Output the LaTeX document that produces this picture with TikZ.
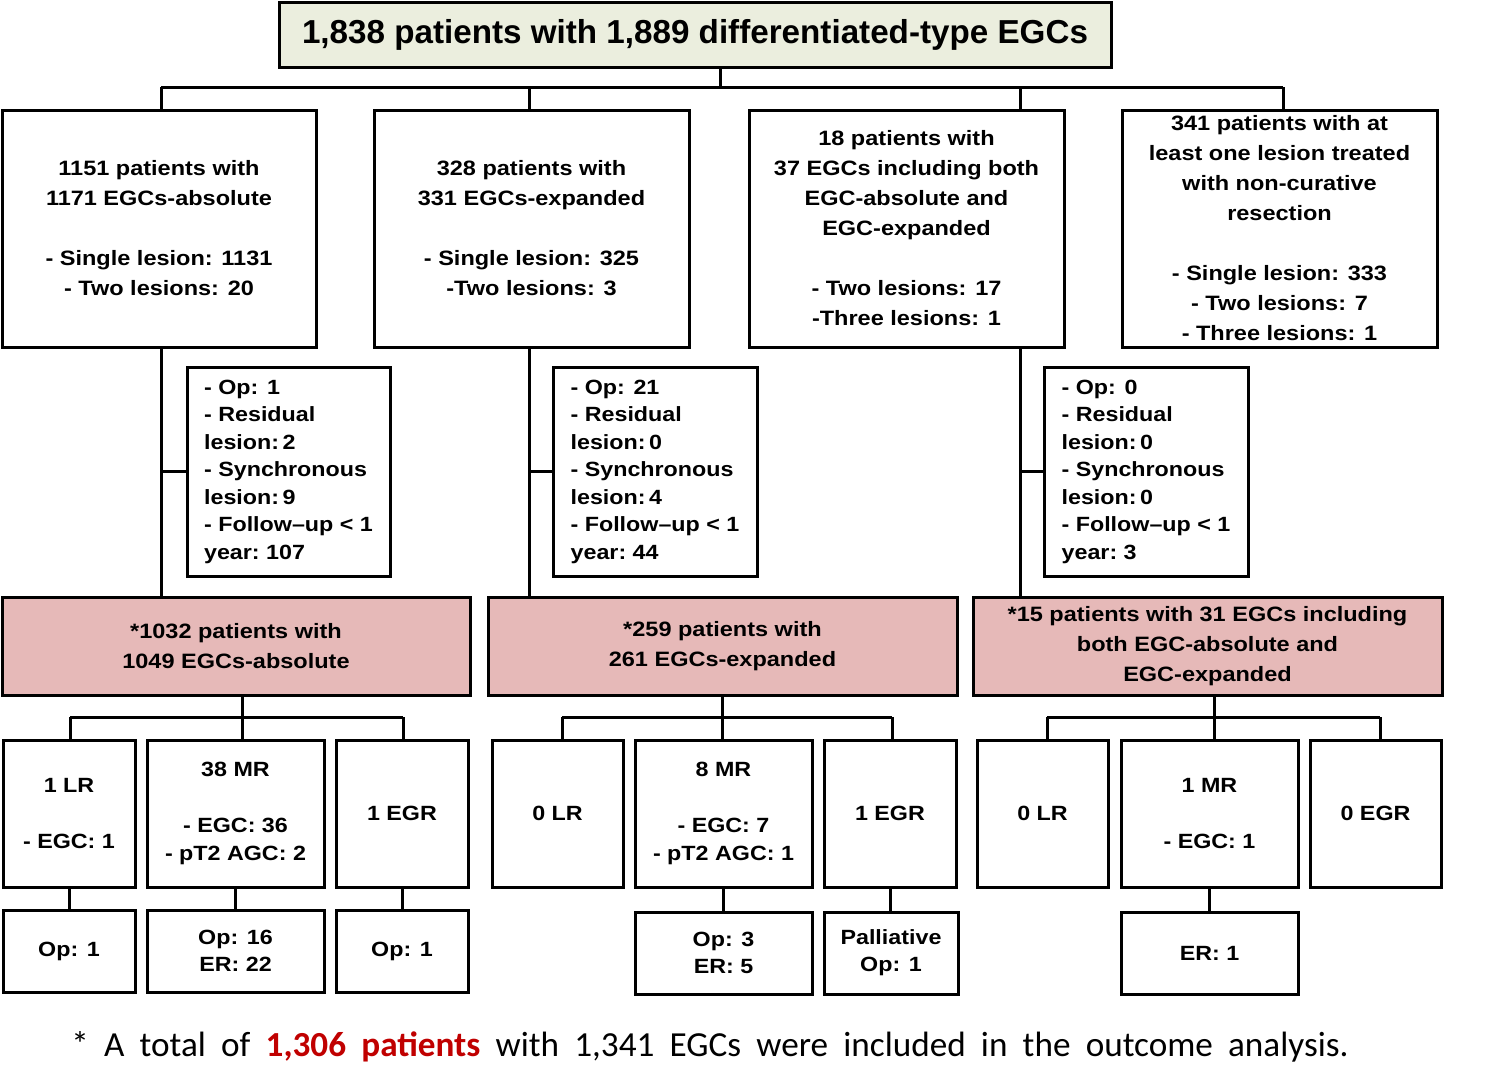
\documentclass[tikz,border=0pt]{standalone}
\usepackage{fontspec}
\setmainfont{Liberation Sans}
\newfontfamily\bodyfont[FakeStretch=1.13]{Liberation Sans}
\newfontfamily\footfont{Carlito}
\usetikzlibrary{calc}
\definecolor{topfill}{RGB}{235,238,222}
\definecolor{pinkfill}{RGB}{230,185,184}
\definecolor{redtxt}{RGB}{192,0,0}
\newcommand{\fsp}{\hspace{7.6pt}}
\begin{document}
\begin{tikzpicture}[x=0.5pt,y=-0.5pt,line width=1.5pt,
  box/.style={draw,line width=1.5pt,inner sep=0pt,align=center,
    font=\bodyfont\bfseries\fontsize{10.4pt}{15pt}\selectfont},
  sidebox/.style={box,align=left,font=\bodyfont\bfseries\fontsize{10.3pt}{13.75pt}\selectfont},
  pinkbox/.style={box,fill=pinkfill},
  smallbox/.style={box,font=\bodyfont\bfseries\fontsize{10.3pt}{14pt}\selectfont},
  leafbox/.style={box,font=\bodyfont\bfseries\fontsize{10.3pt}{13.5pt}\selectfont},
  link/.style={draw,line width=1.5pt}]
\useasboundingbox (0,0) rectangle (1489,1087);
% title
\node[box,fill=topfill,minimum width=416pt,minimum height=32.5pt,
  font=\bfseries\fontsize{16.6pt}{19pt}\selectfont] (top) at (695,34.5)
  {1,838 patients with 1,889 differentiated-type EGCs};
% second row
\node[box,minimum width=157pt,minimum height=118.5pt] (A) at (159,228.5)
  {1151 patients with\\1171 EGCs-absolute\\[15pt]- Single lesion: 1131\\- Two lesions: 20};
\node[box,minimum width=157.5pt,minimum height=118.5pt] (B) at (531.5,228.5)
  {328 patients with\\331 EGCs-expanded\\[15pt]- Single lesion: 325\\-Two lesions: 3};
\node[box,minimum width=157.5pt,minimum height=118.5pt] (C) at (906.5,228.5)
  {18 patients with\\37 EGCs including both\\EGC-absolute and\\EGC-expanded\\[15pt]- Two lesions: 17\\-Three lesions: 1};
\node[box,minimum width=157.5pt,minimum height=118.5pt] (D) at (1279.5,228.5)
  {341 patients with at\\least one lesion treated\\with non-curative\\resection\\[15pt]- Single lesion: 333\\- Two lesions: 7\\- Three lesions: 1};
% side boxes
\node[sidebox,minimum width=101.5pt,minimum height=104.5pt] (S1) at (288.5,471.5)
  {- Op: 1\\- Residual\\lesion:\,2\\- Synchronous\\lesion:\,9\\- Follow–up < 1\\year:~107};
\node[sidebox,minimum width=102pt,minimum height=104.5pt] (S2) at (655,471.5)
  {- Op: 21\\- Residual\\lesion:\,0\\- Synchronous\\lesion:\,4\\- Follow–up < 1\\year:~44};
\node[sidebox,minimum width=102pt,minimum height=104.5pt] (S3) at (1146,471.5)
  {- Op: 0\\- Residual\\lesion:\,0\\- Synchronous\\lesion:\,0\\- Follow–up < 1\\year:~3};
% pink boxes
\node[pinkbox,minimum width=234pt,minimum height=49pt] (P1) at (236,646)
  {*1032 patients with\\1049 EGCs-absolute};
\node[pinkbox,minimum width=234.5pt,minimum height=49pt] (P2) at (722.5,646)
  {*259 patients with\\261 EGCs-expanded};
\node[pinkbox,minimum width=234.5pt,minimum height=49pt] (P3) at (1207.5,646)
  {*15 patients with 31 EGCs including\\both EGC-absolute and\\EGC-expanded};
% fourth row
\node[smallbox,minimum width=66pt,minimum height=73.5pt] (Q1) at (69,813.5) {1 LR\\[14pt]- EGC: 1};
\node[smallbox,minimum width=88.5pt,minimum height=73.5pt] (Q2) at (235.5,813.5) {38 MR\\[14pt]- EGC: 36\\- pT2 AGC: 2};
\node[smallbox,minimum width=66pt,minimum height=73.5pt] (Q3) at (402,813.5) {1 EGR};
\node[smallbox,minimum width=65.5pt,minimum height=73.5pt] (Q4) at (557.5,813.5) {0 LR};
\node[smallbox,minimum width=88.5pt,minimum height=73.5pt] (Q5) at (723.5,813.5) {8 MR\\[14pt]- EGC: 7\\- pT2 AGC: 1};
\node[smallbox,minimum width=66pt,minimum height=73.5pt] (Q6) at (890,813.5) {1 EGR};
\node[smallbox,minimum width=65.5pt,minimum height=73.5pt] (Q7) at (1042.5,813.5) {0 LR};
\node[smallbox,minimum width=88.5pt,minimum height=73.5pt] (Q8) at (1209.5,813.5) {1 MR\\[14pt]- EGC: 1};
\node[smallbox,minimum width=65.5pt,minimum height=73.5pt] (Q9) at (1375.5,813.5) {0 EGR};
% fifth row
\node[leafbox,minimum width=66pt,minimum height=41pt] (R1) at (69,951) {Op: 1};
\node[leafbox,minimum width=88.5pt,minimum height=41pt] (R2) at (235.5,951) {Op: 16\\ER: 22};
\node[leafbox,minimum width=66pt,minimum height=41pt] (R3) at (402,951) {Op: 1};
\node[leafbox,minimum width=88.5pt,minimum height=41pt] (R5) at (723.5,953) {Op: 3\\ER: 5};
\node[leafbox,minimum width=67pt,minimum height=41pt] (R6) at (891,953) {Palliative\\Op: 1};
\node[leafbox,minimum width=88.5pt,minimum height=41pt] (R8) at (1209.5,953) {ER: 1};
% footnote
\node[font=\footfont\fontsize{17.6pt}{19pt}\selectfont,inner sep=0pt] (note) at (710,1047)
  {*\fsp A\fsp total\fsp of\fsp {\color{redtxt}\bfseries 1,306\fsp patients}\fsp with\fsp 1,341\fsp EGCs\fsp were\fsp included\fsp in\fsp the\fsp outcome\fsp analysis.};
% top connectors
\coordinate (jt) at (720,87);
\coordinate (xa) at (161,87);
\coordinate (xb) at (529,87);
\coordinate (xc) at (1020,87);
\coordinate (xd) at (1283,87);
\draw[link] (top.south -| jt) -- (jt);
\draw[link] (xa) -- (xd);
\draw[link] (xa) -- (A.north -| xa);
\draw[link] (xb) -- (B.north -| xb);
\draw[link] (xc) -- (C.north -| xc);
\draw[link] (xd) -- (D.north -| xd);
% verticals to pink boxes
\draw[link] (A.south -| xa) -- (P1.north -| xa);
\draw[link] (B.south -| xb) -- (P2.north -| xb);
\draw[link] (C.south -| xc) -- (P3.north -| xc);
\draw[link] (S1.west) -- (S1.west -| xa);
\draw[link] (S2.west) -- (S2.west -| xb);
\draw[link] (S3.west) -- (S3.west -| xc);
% lower buses
\coordinate (g1a) at (70,717);  \coordinate (g1b) at (242,717); \coordinate (g1c) at (403,717);
\coordinate (g2a) at (562,717); \coordinate (g2b) at (722,717); \coordinate (g2c) at (892,717);
\coordinate (g3a) at (1047,717);\coordinate (g3b) at (1214,717);\coordinate (g3c) at (1380,717);
\draw[link] (P1.south -| g1b) -- (g1b);
\draw[link] (g1a) -- (g1c);
\draw[link] (g1a) -- (Q1.north -| g1a);
\draw[link] (g1b) -- (Q2.north -| g1b);
\draw[link] (g1c) -- (Q3.north -| g1c);
\draw[link] (P2.south -| g2b) -- (g2b);
\draw[link] (g2a) -- (g2c);
\draw[link] (g2a) -- (Q4.north -| g2a);
\draw[link] (g2b) -- (Q5.north -| g2b);
\draw[link] (g2c) -- (Q6.north -| g2c);
\draw[link] (P3.south -| g3b) -- (g3b);
\draw[link] (g3a) -- (g3c);
\draw[link] (g3a) -- (Q7.north -| g3a);
\draw[link] (g3b) -- (Q8.north -| g3b);
\draw[link] (g3c) -- (Q9.north -| g3c);
% to fifth row
\draw[link] (Q1.south) -- (R1.north);
\draw[link] (Q2.south) -- (R2.north);
\draw[link] (Q3.south) -- (R3.north);
\draw[link] (Q5.south) -- (Q5.south |- R5.north);
\draw[link] (Q6.south) -- (Q6.south |- R6.north);
\draw[link] (Q8.south) -- (Q8.south |- R8.north);
\end{tikzpicture}
\end{document}
